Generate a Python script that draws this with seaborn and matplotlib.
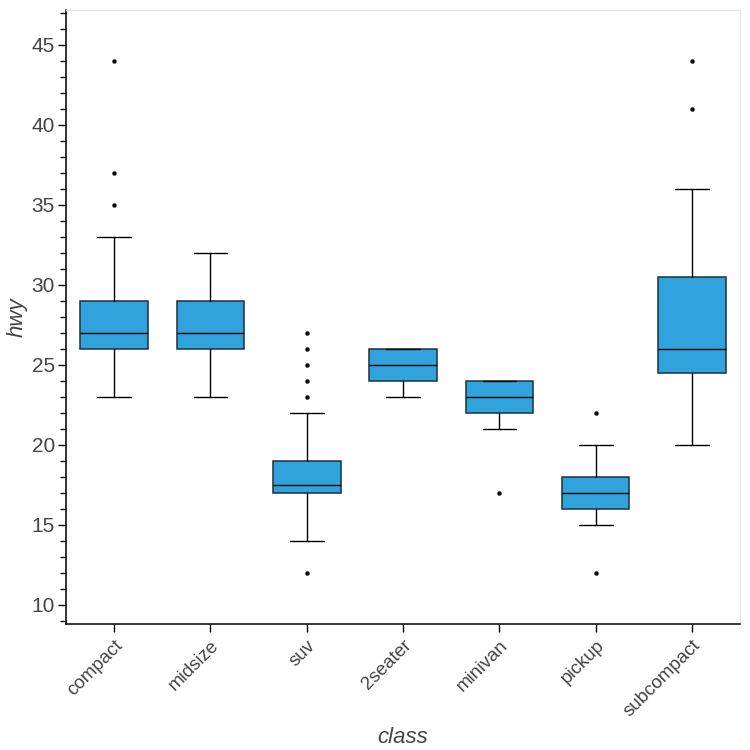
import numpy as np
import matplotlib
matplotlib.use("Agg")
import matplotlib.pyplot as plt
from matplotlib.ticker import MultipleLocator
import seaborn as sns

# hwy by vehicle class (box stats)
classes = ["compact", "midsize", "suv", "2seater", "minivan", "pickup", "subcompact"]
whis_lo = [23, 23, 14, 23, 21, 15, 20]
q1 = [26, 26, 17, 24, 22, 16, 24.5]
med = [27, 27, 17.5, 25, 23, 17, 26]
q3 = [29, 29, 19, 26, 24, 18, 30.5]
whis_hi = [33, 32, 22, 26, 24, 20, 36]
fliers = [[35, 37, 44], [], [12, 23, 24, 25, 26, 27], [], [17], [12, 22], [41, 44]]

sns.set_style("ticks")
plt.rcParams["font.family"] = ["Liberation Sans", "DejaVu Sans"]

stats = []
for i, c in enumerate(classes):
    stats.append({"label": c, "whislo": whis_lo[i], "q1": q1[i], "med": med[i],
                  "q3": q3[i], "whishi": whis_hi[i], "fliers": fliers[i]})

fig, ax = plt.subplots(figsize=(7.5, 7.5), dpi=100)
fig.subplots_adjust(left=0.088, right=0.987, top=0.987, bottom=0.168)

ax.bxp(stats, positions=np.arange(len(classes)), widths=0.7, patch_artist=True,
       boxprops=dict(facecolor="#30a2dc", edgecolor="#1c3140", linewidth=1.1),
       medianprops=dict(color="black", linewidth=1.0),
       whiskerprops=dict(color="black", linewidth=1.0),
       capprops=dict(color="black", linewidth=1.0),
       flierprops=dict(marker="o", markersize=2.2, markerfacecolor="black",
                       markeredgecolor="black"))

ax.set_xlim(-0.5, 6.5)
ax.set_ylim(8.8, 47.2)
ax.yaxis.set_major_locator(MultipleLocator(5))
ax.yaxis.set_minor_locator(MultipleLocator(1))
ax.tick_params(axis="both", which="major", length=6, width=1, color="black",
               labelcolor="#444444")
ax.tick_params(axis="y", which="major", labelsize=15, pad=2)
ax.tick_params(axis="x", which="major", labelsize=13.5)
ax.tick_params(axis="y", which="minor", length=4, width=1, color="black")
ax.set_xticks(np.arange(len(classes)))
ax.set_xticklabels(classes, rotation=45, ha="right", rotation_mode="anchor")

for s in ["left", "bottom"]:
    ax.spines[s].set_color("black")
    ax.spines[s].set_linewidth(1.1)
for s in ["top", "right"]:
    ax.spines[s].set_color("#e6e6e6")
    ax.spines[s].set_linewidth(1.0)

ax.set_xlabel("class", fontsize=16, style="italic", color="#444444")
ax.set_ylabel("hwy", fontsize=16, style="italic", color="#444444")
ax.xaxis.set_label_coords(0.5, -0.167)
ax.yaxis.set_label_coords(-0.057, 0.5)

fig.savefig("out.png", dpi=100)
